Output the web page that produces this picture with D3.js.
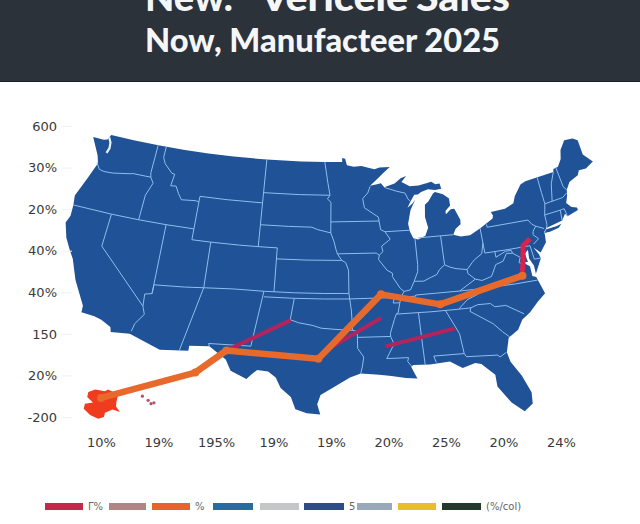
<!DOCTYPE html>
<html><head><meta charset="utf-8">
<script src="https://cdn.jsdelivr.net/npm/d3@7"></script>
<style>html,body{margin:0;padding:0;background:#fff}svg{display:block}</style>
</head><body><svg id="c" width="640" height="524"></svg>
<script>
const titleLine1=["New.'","Vericele","Sales"];
const titleLine2="Now, Manufacteer 2025";
const yTickLabels=["600","30%","20%","40%","40%","150","20%","-200"];
const xTickLabels=["10%","19%","195%","19%","19%","20%","25%","20%","24%"];

// Series, in axis units (x tick index, y tick index)
const orangeX=[0,1.64,2.18,3.78,4.87,5.9,7.33];
const orangeY=[6.54,5.93,5.4,5.6,4.05,4.29,3.6];
const purpleA=[[2.18,5.4],[3.3,4.67]];
const purpleB=[[4.03,5.3],[4.87,4.62]];
const purpleC=[[4.95,5.3],[6.15,4.87]];
const redX=[7.32,7.34,7.34,7.46];
const redY=[3.6,3.29,2.88,2.71];
const alaskaBlob=[[-.22,6.4],[-.1,6.34],[.07,6.38],[.12,6.34],[.3,6.45],[.27,6.62],[.26,6.75],[.33,6.88],[.2,6.82],[.07,6.9],[.05,7.0],[-.05,7.04],[-.19,6.95],[-.3,6.8],[-.28,6.68],[-.14,6.65],[-.24,6.52]];
const hawaiiBits=[[.72,6.5],[.82,6.6],[.87,6.68],[.92,6.66]];

const legendColors=["#c2294a","#b18584","#e8622c","#2a6aa3","#c4c6c8","#2e4c8c","#9aa8bc","#ecbb2f","#24392c"];
const legendLabels=["Γ%","","%","","","5","","","(%/col)"];

// Map geometry (lon, lat)
const land=[[-124.7,48.4],[-123.4,48.4],[-123,48.5],[-122.75,49],[-120,49],[-117,49],[-114,49],[-111,49],[-108,49],[-104.05,49],[-100,49],[-97.2,49],[-95.15,49],[-95.15,49.38],[-94.8,49.3],[-94.6,48.7],[-93.8,48.55],[-92.9,48.6],[-92,48.4],[-91.4,48.25],[-90.8,48.4],[-89.6,48.4],[-90.5,47.8],[-91.3,47.25],[-92,46.75],[-91.2,46.87],[-90.75,46.95],[-90.4,46.55],[-89.2,46.85],[-88.45,47.3],[-87.8,47.47],[-88.4,46.95],[-87.5,46.5],[-86.5,46.5],[-85,46.75],[-84.6,46.47],[-84.1,46.5],[-84,46],[-84.7,45.95],[-85.5,46.08],[-86.3,45.9],[-86.7,45.7],[-87.1,45.7],[-87.6,45.1],[-88,44.55],[-87.4,44.9],[-87.05,45.25],[-87.7,44.3],[-88.1,43.1],[-88,42.4],[-87.7,41.75],[-87.2,41.6],[-86.4,41.9],[-86,42.6],[-86.2,43.6],[-86.05,44.7],[-85.6,45],[-85,45.65],[-84.75,45.78],[-83.9,45.5],[-83.3,45.05],[-83.3,44.4],[-83.9,43.95],[-83.9,43.65],[-83.3,44.05],[-82.9,44.05],[-82.45,43],[-82.5,42.6],[-83.1,42.25],[-83.45,41.73],[-82.7,41.5],[-81.7,41.5],[-80.5,42],[-79,42.7],[-78.9,42.95],[-79.05,43.27],[-77.5,43.27],[-76.5,43.5],[-76.2,44],[-75.3,44.85],[-74.7,45],[-71.5,45],[-71.4,45.25],[-70.85,45.3],[-70.3,45.9],[-70,46.7],[-69.25,47.45],[-68.3,47.35],[-67.8,47.07],[-67.8,45.7],[-67,44.85],[-68,44.4],[-68.8,44.4],[-69.1,44],[-70.2,43.6],[-70.7,43.07],[-70.8,42.7],[-71.05,42.3],[-70.6,41.95],[-70.05,41.8],[-70,41.65],[-71.2,41.5],[-71.4,41.7],[-71.85,41.32],[-73.65,41],[-74,40.7],[-74,40.45],[-74.1,39.75],[-74.9,38.95],[-75.5,39.5],[-75.1,38.8],[-75.05,38.4],[-75.9,37.15],[-75.9,37.9],[-76.2,38.6],[-76.1,39.4],[-76.5,39.1],[-76.4,38.3],[-77,38.4],[-76.3,37.9],[-76.3,37],[-75.95,36.85],[-75.5,35.25],[-76.5,34.65],[-77.9,33.9],[-79.1,33.4],[-80,32.6],[-81,32],[-81.4,30.7],[-81.25,29.8],[-80.55,28.4],[-80.05,26.8],[-80.15,25.75],[-80.9,25.15],[-81.8,26.1],[-82.7,27.7],[-82.7,28.8],[-83.7,29.9],[-84.2,30.05],[-85.3,29.7],[-86.3,30.4],[-88,30.25],[-89.4,30.3],[-89.6,30.15],[-89.3,29.4],[-89.15,29.05],[-90.1,29.15],[-91.3,29.4],[-92.3,29.55],[-93.85,29.7],[-94.75,29.35],[-95.9,28.6],[-97.15,27.75],[-97.4,26.9],[-97.15,25.95],[-98.2,26.05],[-99.1,26.4],[-99.5,27.5],[-100.35,28.3],[-100.8,29.25],[-101.45,29.78],[-102.35,29.87],[-102.85,29.35],[-103.15,28.98],[-104.5,29.65],[-105,30.65],[-106.5,31.75],[-108.2,31.78],[-108.2,31.33],[-111.07,31.33],[-114.8,32.5],[-117.12,32.53],[-117.3,33],[-118.4,33.75],[-119.2,34.15],[-120.6,34.55],[-120.65,35.15],[-121.9,36.6],[-122.5,37.5],[-123,38],[-123.75,39],[-124.35,40.3],[-124.1,41],[-124.2,42],[-124.4,42.85],[-123.7,44.7],[-123.15,46.2],[-123.5,46.9],[-124.7,48.4]];
const longIsland=[[-74,40.6],[-73.7,40.9],[-72.6,40.98],[-72,41.1],[-72.4,40.8],[-73.4,40.6],[-74,40.6]];
const pugetSound=[[-122.9,48.75],[-122.55,48.3],[-122.45,47.8],[-122.6,47.3]];
const borders=[
[[-123.3,46.25],[-123.2,46.15],[-122.8,45.7],[-122.2,45.6],[-121.2,45.65],[-119.3,45.93],[-119,46],[-116.92,46]],
[[-117.03,49],[-117.04,46.4],[-116.92,46],[-116.5,45.5],[-117,44.3],[-117.03,42]],
[[-124.2,42],[-120,42],[-117.03,42],[-114.05,42],[-111.05,42]],
[[-120,42],[-120,39],[-114.63,35],[-114.15,34.3],[-114.7,33.4],[-114.72,32.72]],
[[-114.63,35],[-114.75,36.1],[-114.05,36.2]],
[[-114.05,42],[-114.05,36.2],[-114.05,37],[-111,37],[-109.05,37],[-106,37],[-103,37],[-100,37],[-97,37],[-94.62,37]],
[[-116.05,49],[-116.05,48],[-115.7,47.45],[-114.7,46.7],[-114.35,46.65],[-114.5,45.55],[-113.9,45.6],[-113.45,44.95],[-113,44.45],[-111.5,44.55],[-111.05,44.5]],
[[-111.05,45],[-111.05,44.5],[-111.05,41],[-109.05,41],[-106,41],[-104.05,41],[-102.05,41]],
[[-111.05,45],[-108,45],[-104.05,45]],
[[-104.05,49],[-104.05,45],[-104.05,41]],
[[-109.05,41],[-109.05,37],[-109.05,31.33]],
[[-102.05,41],[-102.05,37]],
[[-102.05,40],[-99,40],[-95.3,40]],
[[-104.05,45.94],[-100,45.94],[-96.56,45.94]],
[[-104.05,43],[-101,43],[-98.5,43],[-97.9,42.8],[-96.45,42.5]],
[[-103.05,37],[-103.05,32],[-106.6,32],[-106.5,31.75]],
[[-103,36.5],[-100,36.5],[-100,34.56],[-99.2,34.3],[-98,34.1],[-97.2,33.85],[-96,33.75],[-94.45,33.65]],
[[-100,36.5],[-97,36.5],[-94.62,36.5]],
[[-94.62,37],[-94.45,35.4],[-94.45,33.65],[-94.05,33.55],[-94.05,33],[-94.05,32],[-93.55,31.2],[-93.7,30.3],[-93.85,29.7]],
[[-94.05,33],[-91.15,33]],
[[-95.3,40],[-94.9,39.8],[-94.62,39.1],[-94.62,37]],
[[-94.62,36.5],[-90.15,36.5],[-90.35,36],[-89.7,36]],
[[-96.45,42.5],[-96.1,41.7],[-95.9,41],[-95.75,40.6],[-95.3,40]],
[[-95.75,40.6],[-91.7,40.6],[-91.4,40.4]],
[[-96.45,43.5],[-91.22,43.5]],
[[-97.2,49],[-96.8,47],[-96.56,45.94],[-96.85,45.6],[-96.45,45.3],[-96.45,42.5]],
[[-92,46.7],[-92.3,46.1],[-92.9,45.6],[-92.75,44.75],[-91.25,43.85],[-91.22,43.5],[-91.1,42.7],[-90.65,42.5],[-90.15,41.8],[-91.1,41.2],[-91,40.7],[-91.4,40.4],[-91.5,40],[-90.7,39],[-90.15,38.7],[-90.2,38.4],[-89.5,37.3],[-89.15,37],[-89.5,36.5],[-89.7,36],[-90.1,35.1],[-90.3,35],[-90.6,34.5],[-91.15,33.3],[-91.15,33],[-90.9,32.3],[-91.6,31],[-89.75,31],[-89.85,30.65],[-89.55,30.2]],
[[-90.65,42.5],[-88,42.5]],
[[-90.4,46.55],[-89.1,46.15],[-88.1,45.9],[-87.85,45.35],[-87.6,45.1]],
[[-87.53,41.72],[-87.53,39.35],[-87.6,38.7],[-88.05,37.85]],
[[-89.15,37],[-88.5,37.1],[-88.05,37.85],[-87.1,37.8],[-86.3,38.1],[-85.7,38.3],[-85.4,38.7],[-84.8,39.1],[-84.3,38.85],[-83.7,38.65],[-82.6,38.45],[-82,39],[-81.7,39.25],[-80.85,39.7],[-80.52,40.64]],
[[-84.8,39.1],[-84.8,41.75]],
[[-87.2,41.75],[-84.8,41.75],[-83.45,41.73]],
[[-80.52,42],[-80.52,40.64],[-80.52,39.72],[-78,39.72],[-75.79,39.72]],
[[-79.76,42.27],[-79.76,42],[-75.35,42],[-75.05,41.6],[-74.7,41.36],[-75.1,40.95],[-75.2,40.65],[-74.75,40.2],[-75.4,39.8]],
[[-74.7,41.36],[-73.9,41]],
[[-75.79,39.72],[-75.7,38.46],[-75.05,38.45]],
[[-79.48,39.72],[-79.48,39.2],[-78.4,39.6],[-77.8,39.6],[-77.72,39.32],[-77.05,38.85],[-77.3,38.4],[-76.95,38.2]],
[[-77.72,39.32],[-78.35,39.4],[-78.85,38.75],[-79.65,38.55],[-80.3,37.55],[-81.3,37.3],[-81.95,37.5]],
[[-82.6,38.45],[-82.6,38.1],[-81.95,37.5],[-83.68,36.6]],
[[-75.9,36.55],[-78,36.55],[-81.7,36.58],[-83.68,36.6],[-86,36.62],[-88.05,36.6],[-88.05,36.5],[-89.5,36.5]],
[[-81.7,36.58],[-82,36.1],[-83.1,35.75],[-84.3,35]],
[[-90.3,35],[-87,35],[-84.3,35],[-83.1,35]],
[[-83.1,35],[-82.3,35.2],[-81.05,35.15],[-80.8,34.82],[-79.7,34.8],[-78.55,33.85]],
[[-83.1,35],[-83.35,34.7],[-81.9,33.4],[-81.4,32.6],[-80.9,32.05]],
[[-85.6,35],[-85.15,32.85],[-85,31]],
[[-87.45,30.4],[-87.6,31],[-85,31],[-84.85,30.7],[-82.2,30.55],[-82.05,30.35],[-81.45,30.7]],
[[-88.2,35],[-88.45,31.9],[-88.4,30.25]],
[[-73.35,45],[-73.35,43.6],[-73.25,42.75],[-73.5,42.05],[-73.5,41.3],[-73.65,41]],
[[-73.5,42.05],[-71.8,42.02],[-71.38,42.02],[-71.2,41.5]],
[[-71.8,42.02],[-71.85,41.32]],
[[-73.25,42.75],[-71.3,42.7],[-70.8,42.87]],
[[-72.45,42.73],[-72.1,44],[-71.5,45]],
[[-71.1,45.3],[-70.98,43.4],[-70.7,43.07]]
];

const svg=d3.select("#c");
const W=640;
svg.append("rect").attr("width",W).attr("height",82).attr("fill","#2b3239");
svg.append("line").attr("x1",0).attr("x2",W).attr("y1",81.5).attr("y2",81.5).attr("stroke","#1b2025");
const titleFont=t=>t.attr("fill","#f4f6f8").attr("font-family","Lato").attr("font-weight",900);
const word1X=[145,260,416], word1W=[92,148,94];
svg.append("g").call(titleFont).selectAll("text").data(titleLine1).join("text")
 .attr("x",(d,i)=>word1X[i]).attr("y",11).attr("font-size",38)
 .attr("textLength",(d,i)=>word1W[i]).attr("lengthAdjust","spacingAndGlyphs").text(d=>d);
svg.append("text").call(titleFont).attr("x",145).attr("y",52).attr("font-size",33)
 .attr("textLength",355).attr("lengthAdjust","spacingAndGlyphs").text(titleLine2);

const x=d3.scaleLinear().domain([0,8]).range([101,561]);
const y=d3.scaleLinear().domain([0,7]).range([126,417]);

// Map: conic projection, vertically squashed, with a light warp towards the reference's drawing
const proj=d3.geoConicEqualArea().parallels([29.5,45.5]).rotate([96,0]).center([0,0]).scale(731).translate([335,0]);
const smooth=t=>{t=Math.max(0,Math.min(1,t));return t*t*(3-2*t)};
const swDrop=d3.scaleLinear().domain([85,113,140,170,225]).range([20,10,7,5,0]).clamp(true);
const warp=d3.geoTransform({point(a,b){
  let py=679.1+.856*b, px=a;
  let nx=px+(px<335?.11:.08)*(px-335)*smooth((py-295)/40)*(px>200||px>335?1:Math.max(0,(px-110)/90));
  let ny=py+swDrop(px)*smooth((py-250)/30);
  if(px>480) ny-=Math.min(1.3,(px-480)/70)*9*smooth((225-py)/30);
  this.stream.point(nx,ny);
}});
const path=d3.geoPath({stream:s=>proj.stream(warp.stream(s))});
const mapFill="#1f5296", borderCol="#8fbdf0";
svg.append("path").datum({type:"MultiPolygon",coordinates:[[land],[longIsland]]}).attr("d",path).attr("fill",mapFill);
svg.append("path").datum({type:"MultiLineString",coordinates:borders}).attr("d",path)
 .attr("fill","none").attr("stroke",borderCol).attr("stroke-width",1).attr("stroke-linejoin","round");
svg.append("path").datum({type:"LineString",coordinates:pugetSound}).attr("d",path)
 .attr("fill","none").attr("stroke","#e8f2fb").attr("stroke-width",2.2);

// Axis ticks
const axisY=d3.axisLeft(y).tickValues(d3.range(yTickLabels.length)).tickFormat(i=>yTickLabels[i]).tickSize(10).tickPadding(5);
const gy=svg.append("g").attr("transform","translate(72,0)").call(axisY);
gy.select(".domain").remove();
gy.selectAll("line").attr("stroke","#eef0f2");
gy.selectAll("text").attr("font-family","DejaVu Sans").attr("font-size",13).attr("fill","#3a3a3a");
const axisX=d3.axisBottom(x).tickValues(d3.range(xTickLabels.length)).tickFormat(i=>xTickLabels[i]).tickSize(0).tickPadding(0);
const gx=svg.append("g").attr("transform","translate(0,438)").call(axisX);
gx.select(".domain").remove();
gx.selectAll("text").attr("font-family","DejaVu Sans").attr("font-size",13).attr("fill","#3a3a3a");

// Series
const line=d3.line().x(d=>x(d[0])).y(d=>y(d[1]));
svg.append("path").attr("d",line.curve(d3.curveLinearClosed)(alaskaBlob)).attr("fill","#f03c1e");
line.curve(d3.curveLinear);
svg.selectAll("circle.hi").data(hawaiiBits).join("circle").attr("class","hi").attr("cx",d=>x(d[0])).attr("cy",d=>y(d[1])).attr("r",1.6).attr("fill","#b4506a");
[purpleA,purpleB,purpleC].forEach(s=>svg.append("path").attr("d",line(s)).attr("fill","none").attr("stroke","#b4245c").attr("stroke-width",4));
svg.append("path").attr("d",line(d3.zip(redX,redY))).attr("fill","none").attr("stroke","#d9224c").attr("stroke-width",5).attr("stroke-linejoin","round");
const orange=d3.zip(orangeX,orangeY);
svg.append("path").attr("d",line(orange)).attr("fill","none").attr("stroke","#e8692c").attr("stroke-width",6.5).attr("stroke-linejoin","round");
svg.selectAll("circle.o").data(orange).join("circle").attr("class","o").attr("cx",d=>x(d[0])).attr("cy",d=>y(d[1])).attr("r",4).attr("fill","#ea6a2a");

// Legend
const legendStarts=[45,109,152,213,260,304,357,398,442];
const legendEnds=[83,146,190,253,299,344,392,436,481];
const lg=svg.append("g");
lg.selectAll("rect").data(legendColors).join("rect").attr("x",(d,i)=>legendStarts[i]).attr("width",(d,i)=>legendEnds[i]-legendStarts[i]).attr("y",503).attr("height",7).attr("fill",d=>d);
lg.selectAll("text").data(legendLabels).join("text").attr("x",(d,i)=>legendEnds[i]+5).attr("y",510).attr("font-family","DejaVu Sans").attr("font-size",10).attr("fill","#666").text(d=>d);
</script></body></html>
